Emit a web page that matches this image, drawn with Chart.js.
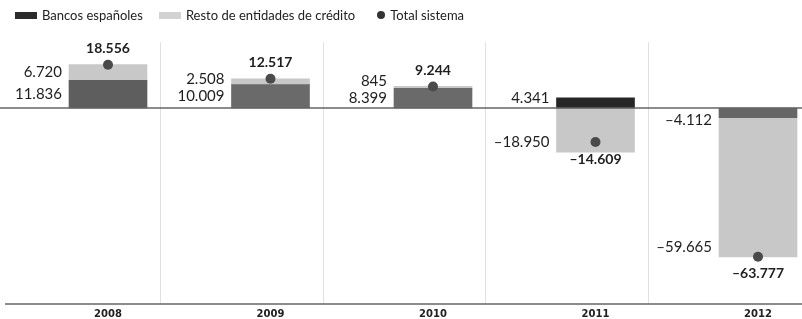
<!DOCTYPE html>
<html lang="es">
<head>
  <meta charset="UTF-8">
  <title>Bancos españoles y resto de entidades de crédito</title>
  <script src="https://cdn.jsdelivr.net/npm/chart.js"></script>
  <style>
    body { margin: 0; background: #fff; }
    #wrap { position: relative; width: 802px; height: 319px; }
    #legend {
      position: absolute; top: 7px; left: 15px;
      display: flex; align-items: center;
      font: 13px Lato, sans-serif; color: #222;
    }
    #legend .sw { display: inline-block; width: 22px; height: 7px; margin-right: 5px; }
    #legend .dot { display: inline-block; width: 8px; height: 8px; border-radius: 50%; background: #333; margin-right: 5px; }
  </style>
</head>
<body>
  <div id="wrap">
    <div id="legend">
      <span class="sw" style="background:#2b2b2b"></span><span>Bancos españoles</span>
      <span class="sw" style="background:#d2d2d2; margin-left:16px"></span><span>Resto de entidades de crédito</span>
      <span class="dot" style="margin-left:22px"></span><span>Total sistema</span>
    </div>
    <canvas id="chart" width="802" height="319"></canvas>
  </div>

  <script>
    // datos (millones de euros)
    const years = ['2008', '2009', '2010', '2011', '2012'];
    const bancos = [11836, 10009, 8399, 4341, -4112];
    const resto = [6720, 2508, 845, -18950, -59665];
    const total = [18556, 12517, 9244, -14609, -63777];

    const fmt = v => {
      const s = Math.abs(v).toString().replace(/\B(?=(\d{3})+(?!\d))/g, '.');
      return (v < 0 ? '\u2013' : '') + s;
    };

    // lineas de cero, base y separadores
    const lines = {
      id: 'lines',
      beforeDatasetsDraw(chart) {
        const { ctx, chartArea, scales } = chart;
        const x = scales.x;
        const step = x.getPixelForValue(1) - x.getPixelForValue(0);
        ctx.save();
        ctx.strokeStyle = '#e0e0e0';
        ctx.lineWidth = 1;
        for (let i = 0; i < years.length - 1; i++) {
          const px = Math.round(x.getPixelForValue(i) + step * 0.32) + 0.5;
          ctx.beginPath();
          ctx.moveTo(px, chartArea.top + 4);
          ctx.lineTo(px, chartArea.bottom);
          ctx.stroke();
        }
        ctx.restore();
      },
      afterDatasetsDraw(chart) {
        const { ctx, chartArea, scales, width } = chart;
        const zero = scales.y.getPixelForValue(0);
        ctx.save();
        ctx.strokeStyle = '#666';
        ctx.lineWidth = 1.5;
        ctx.beginPath();
        ctx.moveTo(0, zero);
        ctx.lineTo(width, zero);
        ctx.moveTo(5, chartArea.bottom);
        ctx.lineTo(width, chartArea.bottom);
        ctx.stroke();
        ctx.restore();
      }
    };

    // etiquetas de valores
    const labels = {
      id: 'labels',
      afterDraw(chart) {
        const { ctx, scales } = chart;
        const zero = scales.y.getPixelForValue(0);
        const mB = chart.getDatasetMeta(0).data;
        const mR = chart.getDatasetMeta(1).data;
        const mT = chart.getDatasetMeta(2).data;
        ctx.save();
        ctx.fillStyle = '#1e1e1e';
        ctx.textBaseline = 'middle';
        ctx.font = '15px Lato, sans-serif';
        ctx.textAlign = 'right';
        years.forEach((y, i) => {
          const b = mB[i], r = mR[i];
          const left = b.x - b.width / 2 - 7;
          let yb;
          if (bancos[i] >= 0) yb = Math.min((b.y + b.base) / 2, zero - 10);
          else yb = b.y + 3;
          ctx.fillText(fmt(bancos[i]), left, yb);
          let yr;
          if (resto[i] >= 0) yr = Math.min((r.y + r.base) / 2, yb - 17);
          else yr = r.y - 10;
          ctx.fillText(fmt(resto[i]), left, yr);
        });
        ctx.font = 'bold 14px Lato, sans-serif';
        ctx.textAlign = 'center';
        years.forEach((y, i) => {
          const p = mT[i];
          ctx.fillText(fmt(total[i]), p.x, total[i] >= 0 ? p.y - 16 : p.y + 17);
        });
        ctx.restore();
      }
    };

    new Chart(document.getElementById('chart'), {
      type: 'bar',
      data: {
        labels: years,
        datasets: [
          {
            label: 'Bancos españoles',
            data: bancos,
            backgroundColor: ['#5e5e5e', '#6a6a6a', '#6a6a6a', '#262626', '#666666'],
            stack: 'a',
            order: 1,
            barThickness: 78,
            clip: false
          },
          {
            label: 'Resto de entidades de crédito',
            data: resto,
            backgroundColor: '#c8c8c8',
            stack: 'a',
            order: 1,
            barThickness: 78,
            clip: false
          },
          {
            type: 'line',
            label: 'Total sistema',
            data: total,
            showLine: false,
            stack: 'total',
            order: 0,
            pointRadius: 5,
            pointBackgroundColor: '#4a4a4a',
            pointBorderWidth: 0,
            clip: false
          }
        ]
      },
      options: {
        responsive: false,
        animation: false,
        layout: { padding: { left: 108, right: 44, top: 38, bottom: -5 } },
        plugins: { legend: { display: false }, tooltip: { enabled: false } },
        scales: {
          x: {
            stacked: true,
            offset: false,
            grid: { display: false, drawTicks: false },
            border: { display: false },
            ticks: { padding: 4, color: '#222', font: { family: 'DejaVu Sans', size: 10, weight: 'bold' } }
          },
          y: {
            stacked: true,
            display: false,
            min: -84000,
            max: 30000
          }
        }
      },
      plugins: [lines, labels]
    });
  </script>
</body>
</html>
